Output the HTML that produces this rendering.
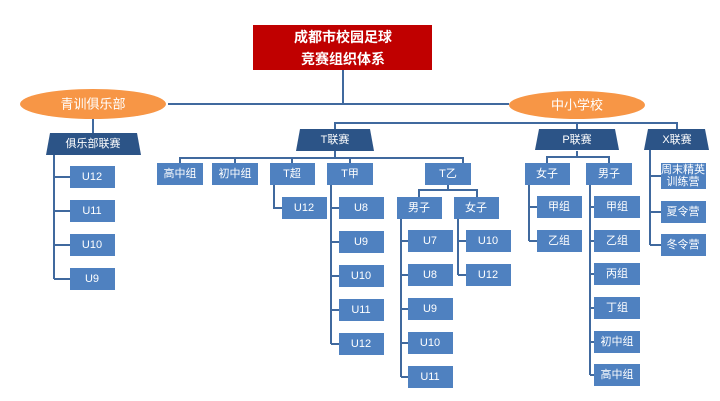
<!DOCTYPE html>
<html><head><meta charset="utf-8"><style>
html,body{margin:0;padding:0;background:#fff;width:720px;height:401px;overflow:hidden}
svg text{font-family:"Liberation Sans","Noto Sans CJK SC",sans-serif;fill:#fff;text-anchor:middle;dominant-baseline:central}
</style></head><body>
<svg width="720" height="401" viewBox="0 0 720 401" xmlns="http://www.w3.org/2000/svg">
<g stroke="#40699e" stroke-width="2" fill="none">
<path d="M343 70V104M168 104H509"/>
<path d="M335 130V123H677V129M577 123V129"/>
<path d="M93 119V133"/>
<path d="M54 155V279M54 177H70M54 211H70M54 245H70M54 279H70"/>
<path d="M180 163V158H463V163M235 158V163M292 158V163M350 158V163M335 151V158"/>
<path d="M274 185V208H282"/>
<path d="M331 185V344M331 208H339M331 242H339M331 276H339M331 310H339M331 344H339"/>
<path d="M419 197V190H477V197M448 185V190"/>
<path d="M401 219V377M401 241H408M401 275H408M401 309H408M401 343H408M401 377H408"/>
<path d="M458 219V275M458 241H466M458 275H466"/>
<path d="M547 163V157H609V163M577 151V157"/>
<path d="M529 185V241M529 207H537M529 241H537"/>
<path d="M590 185V375M590 207H594M590 241H594M590 274H594M590 308H594M590 342H594M590 375H594"/>
<path d="M650 150V245M650 176H661M650 212H661M650 245H661"/>
</g>
<rect x="253" y="25" width="179" height="45" fill="#c00000"/>
<text x="343" y="37" font-size="14" font-weight="bold">成都市校园足球</text>
<text x="343" y="59" font-size="14" font-weight="bold">竞赛组织体系</text>
<ellipse cx="93" cy="104" rx="73" ry="15" fill="#f79646"/>
<text x="93" y="104" font-size="13">青训俱乐部</text>
<ellipse cx="577" cy="105" rx="68" ry="14" fill="#f79646"/>
<text x="577" y="105" font-size="13">中小学校</text>
<g fill="#2c5487">
<polygon points="50,133 137,133 141,155 46,155"/>
<polygon points="300,129 370,129 374,151 296,151"/>
<polygon points="539,129 615,129 619,150 535,150"/>
<polygon points="648,129 705,129 709,150 644,150"/>
</g>
<g font-size="11">
<text x="93" y="144">俱乐部联赛</text>
<text x="335" y="140">T联赛</text>
<text x="577" y="140">P联赛</text>
<text x="677" y="140">X联赛</text>
</g>
<g fill="#4f81c0">
<rect x="70" y="166" width="45" height="22"/><rect x="70" y="200" width="45" height="22"/><rect x="70" y="234" width="45" height="22"/><rect x="70" y="268" width="45" height="22"/>
<rect x="157" y="163" width="46" height="22"/><rect x="212" y="163" width="46" height="22"/><rect x="270" y="163" width="45" height="22"/><rect x="327" y="163" width="46" height="22"/><rect x="425" y="163" width="46" height="22"/>
<rect x="282" y="197" width="45" height="22"/>
<rect x="339" y="197" width="45" height="22"/><rect x="339" y="231" width="45" height="22"/><rect x="339" y="265" width="45" height="22"/><rect x="339" y="299" width="45" height="22"/><rect x="339" y="333" width="45" height="22"/>
<rect x="397" y="197" width="45" height="22"/><rect x="454" y="197" width="45" height="22"/>
<rect x="408" y="230" width="45" height="22"/><rect x="408" y="264" width="45" height="22"/><rect x="408" y="298" width="45" height="22"/><rect x="408" y="332" width="45" height="22"/><rect x="408" y="366" width="45" height="22"/>
<rect x="466" y="230" width="45" height="22"/><rect x="466" y="264" width="45" height="22"/>
<rect x="525" y="163" width="45" height="22"/><rect x="586" y="163" width="46" height="22"/>
<rect x="537" y="196" width="45" height="22"/><rect x="537" y="230" width="45" height="22"/>
<rect x="594" y="196" width="46" height="22"/><rect x="594" y="230" width="46" height="22"/><rect x="594" y="263" width="46" height="22"/><rect x="594" y="297" width="46" height="22"/><rect x="594" y="331" width="46" height="22"/><rect x="594" y="364" width="46" height="22"/>
<rect x="661" y="163" width="45" height="26"/><rect x="661" y="201" width="45" height="22"/><rect x="661" y="234" width="45" height="22"/>
</g>
<g font-size="11">
<text x="92" y="177">U12</text><text x="92" y="211">U11</text><text x="92" y="245">U10</text><text x="92" y="279">U9</text>
<text x="180" y="174">高中组</text><text x="235" y="174">初中组</text><text x="292" y="174">T超</text><text x="350" y="174">T甲</text><text x="448" y="174">T乙</text>
<text x="304" y="208">U12</text>
<text x="361" y="208">U8</text><text x="361" y="242">U9</text><text x="361" y="276">U10</text><text x="361" y="310">U11</text><text x="361" y="344">U12</text>
<text x="419" y="208">男子</text><text x="476" y="208">女子</text>
<text x="430" y="241">U7</text><text x="430" y="275">U8</text><text x="430" y="309">U9</text><text x="430" y="343">U10</text><text x="430" y="377">U11</text>
<text x="488" y="241">U10</text><text x="488" y="275">U12</text>
<text x="547" y="174">女子</text><text x="609" y="174">男子</text>
<text x="559" y="207">甲组</text><text x="559" y="241">乙组</text>
<text x="617" y="207">甲组</text><text x="617" y="241">乙组</text><text x="617" y="274">丙组</text><text x="617" y="308">丁组</text><text x="617" y="342">初中组</text><text x="617" y="375">高中组</text>
<text x="683" y="170">周末精英</text><text x="683" y="182">训练营</text>
<text x="683" y="212">夏令营</text><text x="683" y="245">冬令营</text>
</g>
</svg>
</body></html>
